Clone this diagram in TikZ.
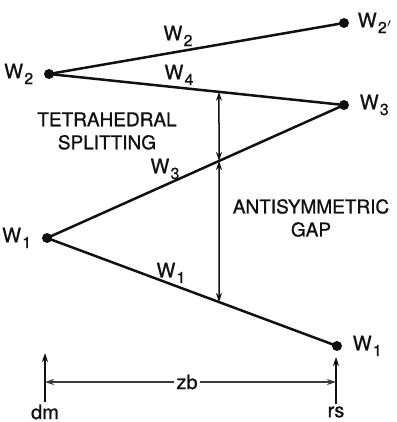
\documentclass[tikz,border=0pt]{standalone}
\usepackage{fontspec}
\setmainfont{TeX Gyre Heros}[UprightFeatures={FakeBold=0.9}]
\usetikzlibrary{arrows.meta,positioning}
\definecolor{ink}{HTML}{111111}
\definecolor{dimc}{HTML}{3A3A3A}
\newcommand{\Wl}[1]{W\kern0.6pt\raisebox{-0.55ex}{\fontsize{8}{9}\selectfont #1}}
\tikzset{
  lvl/.style={line width=1.25pt,color=ink},
  dot/.style={circle,fill=ink,inner sep=0pt,minimum size=5pt},
  gap/.style={{Stealth[length=4.5pt,width=3pt]}-{Stealth[length=4.5pt,width=3pt]},
    line width=0.75pt,color=ink},
  up/.style={-{Stealth[length=4.5pt,width=3pt]},line width=0.8pt,color=ink},
  dim/.style={-{Stealth[length=4.5pt,width=3pt]},line width=0.6pt,color=dimc},
  wl/.style={font=\fontsize{10}{12}\selectfont,text=ink,inner sep=1pt},
  txt/.style={font=\fontsize{9.5}{11.5}\selectfont,text=ink,align=center,inner sep=1pt}
}
\begin{document}
\begin{tikzpicture}[x=0.5pt,y=-0.5pt]
  \useasboundingbox (0,0) rectangle (396,422);
  % levels
  \node[dot] (w2l) at (49,74) {};
  \node[dot] (w2p) at (344,23) {};
  \node[dot] (w3r) at (344,105) {};
  \node[dot] (w1l) at (47,238) {};
  \node[dot] (w1r) at (337,346) {};
  \draw[lvl] (w2l.center) -- (w2p.center);
  \draw[lvl] (w2l.center) -- (w3r.center);
  \draw[lvl] (w1l.center) -- (w3r.center);
  \draw[lvl] (w1l.center) -- (w1r.center);
  % level names
  \node[wl,left=4pt of w2l] (nw2l) {\Wl{2}};
  \node[wl,right=3pt of w2p] (nw2p) {\Wl{2$'$}};
  \node[wl,right=4pt of w3r] (nw3r) {\Wl{3}};
  \node[wl,left=4pt of w1l] (nw1l) {\Wl{1}};
  \node[wl,right=4pt of w1r] (nw1r) {\Wl{1}};
  \node[wl] (lw2) at (178,36) {\Wl{2}};
  \node[wl] (lw4) at (179,75) {\Wl{4}};
  \node[wl] (lw3) at (165,169) {\Wl{3}};
  \node[wl] (lw1) at (171,273) {\Wl{1}};
  % splittings
  \coordinate (ga) at (intersection cs: first line={(w2l)--(w3r)}, second line={(219,0)--(219,400)});
  \coordinate (gb) at (intersection cs: first line={(w1l)--(w3r)}, second line={(219,0)--(219,400)});
  \coordinate (gc) at (intersection cs: first line={(w1l)--(w1r)}, second line={(219,0)--(219,400)});
  \draw[gap] (ga) -- (gb);
  \draw[gap] (gb) -- (gc);
  \node[txt] (tet) at (107,131) {TETRAHEDRAL\\SPLITTING};
  \node[txt] (anti) at (311,218) {ANTISYMMETRIC\\GAP};
  % coordinate axis
  \node[wl] (dm) at (45,412) {dm};
  \node[wl] (rs) at (336,412) {rs};
  \node[wl] (zb) at (187,382) {zb};
  \coordinate (dmt) at (45,353);
  \coordinate (rst) at (336,357);
  \draw[up] (dm) -- (dmt);
  \draw[up] (rs) -- (rst);
  \draw[dim] (zb) -- (dmt |- zb);
  \draw[dim] (zb) -- (rst |- zb);
\end{tikzpicture}
\end{document}
